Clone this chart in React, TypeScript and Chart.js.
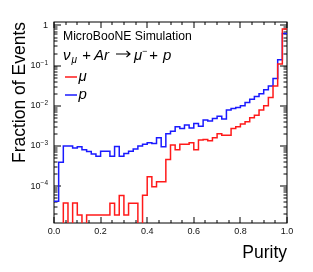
import React, { useEffect, useRef } from 'react';
import { Chart, registerables } from 'chart.js';

Chart.register(...registerables);

// Histogram: 50 bins of purity from 0 to 1
const BIN_COUNT = 50;
const X_MIN = 0;
const X_MAX = 1;
const binEdges: number[] = Array.from({ length: BIN_COUNT + 1 }, (_, i) => X_MIN + (i * (X_MAX - X_MIN)) / BIN_COUNT);

// Fraction of events per bin (muon)
const muFraction: number[] = [
  0, 0, 3.8e-5, 0, 3.8e-5, 1.9e-5, 0, 1.9e-5, 1.9e-5, 1.9e-5,
  1.9e-5, 1.9e-5, 3.7e-5, 1.9e-5, 5.8e-5, 1.9e-5, 3.7e-5, 3.7e-5, 0, 5.9e-5,
  1.7e-4, 9.6e-5, 1.27e-4, 1.27e-4, 4.6e-4, 1.05e-3, 8.0e-4, 1.1e-3, 1.1e-3, 1.2e-3,
  8.0e-4, 1.4e-3, 1.45e-3, 1.35e-3, 1.6e-3, 2.0e-3, 1.85e-3, 1.85e-3, 2.7e-3, 3.0e-3,
  3.5e-3, 4.0e-3, 5.0e-3, 5.8e-3, 7.8e-3, 1.0e-2, 1.6e-2, 3.1e-2, 0.11, 0.82,
];

// Fraction of events per bin (proton)
const pFraction: number[] = [
  4.2e-5, 3.9e-4, 1.0e-3, 1.0e-3, 8.8e-4, 9.5e-4, 8.0e-4, 7.2e-4, 6.3e-4, 5.5e-4,
  7.4e-4, 7.4e-4, 5.5e-4, 9.7e-4, 5.5e-4, 6.5e-4, 7.4e-4, 8.4e-4, 1.0e-3, 1.1e-3,
  1.2e-3, 1.15e-3, 1.6e-3, 9.5e-4, 2.0e-3, 2.3e-3, 3.0e-3, 2.7e-3, 3.3e-3, 2.8e-3,
  3.6e-3, 3.1e-3, 4.4e-3, 4.2e-3, 4.8e-3, 5.5e-3, 4.7e-3, 7.8e-3, 8.6e-3, 9.0e-3,
  1.0e-2, 1.2e-2, 1.45e-2, 1.7e-2, 2.0e-2, 2.5e-2, 3.1e-2, 4.8e-2, 0.14, 0.63,
];

const xMajorTicks: number[] = [0, 0.2, 0.4, 0.6, 0.8, 1.0];
const xTickLabels: string[] = ['0.0', '0.2', '0.4', '0.6', '0.8', '1.0'];
const yDecadeExponents: number[] = [0, -1, -2, -3, -4];
const Y_MIN = 1.2e-5;
const Y_MAX = 1.22;

const X_TITLE = 'Purity';
const Y_TITLE = 'Fraction of Events';
const HEADER = 'MicroBooNE Simulation';
const seriesLabels = ['μ', 'p'];
const seriesColors = ['#ff1a1a', '#1a1aff'];

const FONT = '"Liberation Sans", Arial, Helvetica, sans-serif';

function toSteps(values: number[]) {
  const floor = 1e-8;
  const pts = values.map((v, i) => ({ x: binEdges[i], y: v > 0 ? v : floor }));
  const last = values[values.length - 1];
  pts.push({ x: binEdges[binEdges.length - 1], y: last > 0 ? last : floor });
  return pts;
}

const decorPlugin = {
  id: 'rootDecor',
  beforeDatasetsDraw(chart: any) {
    const { ctx, chartArea: a, scales } = chart;
    const xs = scales.x;
    const ys = scales.y;
    ctx.save();
    ctx.strokeStyle = '#000';
    ctx.lineWidth = 1;
    ctx.strokeRect(a.left, a.top, a.right - a.left, a.bottom - a.top);
    ctx.beginPath();
    for (let i = 0; i <= 20; i++) {
      const v = i * 0.05;
      const px = Math.round(xs.getPixelForValue(v));
      const major = i % 4 === 0;
      const len = major ? 6 : 3;
      ctx.moveTo(px, a.bottom);
      ctx.lineTo(px, a.bottom - len);
      ctx.moveTo(px, a.top);
      ctx.lineTo(px, a.top + len);
    }
    for (let e = -5; e <= 0; e++) {
      for (let m = 1; m <= 9; m++) {
        const v = m * Math.pow(10, e);
        if (v < Y_MIN || v > Y_MAX) continue;
        const py = Math.round(ys.getPixelForValue(v));
        const len = m === 1 ? 7 : 3.5;
        ctx.moveTo(a.left, py);
        ctx.lineTo(a.left + len, py);
        ctx.moveTo(a.right, py);
        ctx.lineTo(a.right - len, py);
      }
    }
    ctx.stroke();
    ctx.restore();
  },
  afterDraw(chart: any) {
    const { ctx, chartArea: a, scales } = chart;
    const xs = scales.x;
    const ys = scales.y;
    ctx.save();
    ctx.fillStyle = '#111';
    ctx.font = `9px ${FONT}`;
    ctx.textAlign = 'center';
    ctx.textBaseline = 'alphabetic';
    xMajorTicks.forEach((v, i) => {
      ctx.fillText(xTickLabels[i], xs.getPixelForValue(v), 233.5);
    });
    const rightEdge = 48;
    yDecadeExponents.forEach((e) => {
      const py = ys.getPixelForValue(Math.pow(10, e));
      ctx.textBaseline = 'middle';
      ctx.textAlign = 'right';
      if (e === 0) {
        ctx.font = `9px ${FONT}`;
        ctx.fillText('1', rightEdge, py);
      } else {
        const expText = `\u2212${Math.abs(e)}`;
        ctx.font = `6.5px ${FONT}`;
        const ew = ctx.measureText(expText).width;
        ctx.textBaseline = 'alphabetic';
        ctx.fillText(expText, rightEdge, py - 1);
        ctx.font = `9px ${FONT}`;
        ctx.textBaseline = 'middle';
        ctx.fillText('10', rightEdge - ew, py);
      }
    });
    ctx.fillStyle = '#000';
    ctx.font = `17.5px ${FONT}`;
    ctx.textAlign = 'right';
    ctx.textBaseline = 'alphabetic';
    ctx.fillText(X_TITLE, a.right, 258);
    ctx.save();
    ctx.translate(25, a.top);
    ctx.rotate(-Math.PI / 2);
    ctx.textAlign = 'right';
    ctx.fillText(Y_TITLE, 0, 0);
    ctx.restore();
    ctx.textAlign = 'left';
    ctx.font = `12.2px ${FONT}`;
    ctx.fillText(HEADER, 63, 39.5);
    // reaction: nu_mu + Ar -> mu^- + p
    const base = 59.5;
    const put = (t: string, x: number, size: number, dy = 0) => {
      ctx.font = `italic ${size}px ${FONT}`;
      ctx.fillText(t, x, base + dy);
    };
    put('ν', 63, 15);
    put('μ', 71.5, 10, 3.5);
    put('+', 82, 15);
    put('Ar', 94, 15);
    ctx.strokeStyle = '#000';
    ctx.lineWidth = 1.1;
    ctx.beginPath();
    ctx.moveTo(116, 54);
    ctx.lineTo(130, 54);
    ctx.moveTo(126.5, 51);
    ctx.lineTo(130, 54);
    ctx.lineTo(126.5, 57);
    ctx.stroke();
    put('μ', 134, 15);
    put('−', 142, 9, -6);
    put('+', 149, 15);
    put('p', 163, 15);
    const legendY = [77, 95];
    seriesLabels.forEach((lab, i) => {
      ctx.strokeStyle = seriesColors[i];
      ctx.globalAlpha = 0.75;
      ctx.lineWidth = 2;
      ctx.beginPath();
      ctx.moveTo(65, legendY[i]);
      ctx.lineTo(77, legendY[i]);
      ctx.stroke();
      ctx.globalAlpha = 1;
      ctx.fillStyle = '#000';
      ctx.font = `italic 15px ${FONT}`;
      ctx.textBaseline = 'alphabetic';
      ctx.fillText(lab, 78.5, legendY[i] + 4);
    });
    ctx.restore();
  },
};

export default function App() {
  const canvasRef = useRef<HTMLCanvasElement | null>(null);
  useEffect(() => {
    const canvas = canvasRef.current;
    if (!canvas) return;
    const chart = new Chart(canvas, {
      type: 'line',
      data: {
        datasets: [
          {
            label: seriesLabels[0],
            data: toSteps(muFraction),
            borderColor: seriesColors[0],
            borderWidth: 1.5,
            pointRadius: 0,
            stepped: 'before',
            fill: false,
            clip: 0,
          } as any,
          {
            label: seriesLabels[1],
            data: toSteps(pFraction),
            borderColor: seriesColors[1],
            borderWidth: 1.5,
            pointRadius: 0,
            stepped: 'before',
            fill: false,
            clip: 0,
          } as any,
        ],
      },
      options: {
        animation: false,
        responsive: false,
        devicePixelRatio: 1,
        parsing: false,
        normalized: true,
        layout: { padding: { left: 54, right: 26, top: 22, bottom: 49 } },
        plugins: { legend: { display: false }, tooltip: { enabled: false }, title: { display: false } },
        scales: {
          x: { type: 'linear', min: X_MIN, max: X_MAX, display: false },
          y: { type: 'logarithmic', min: Y_MIN, max: Y_MAX, display: false },
        },
      },
      plugins: [decorPlugin],
    });
    return () => chart.destroy();
  }, []);
  return (
    <div style={{ position: 'fixed', left: 0, top: 0, width: 313, height: 272, background: '#fff' }}>
      <canvas ref={canvasRef} width={313} height={272} style={{ width: 313, height: 272, display: 'block' }} />
    </div>
  );
}
